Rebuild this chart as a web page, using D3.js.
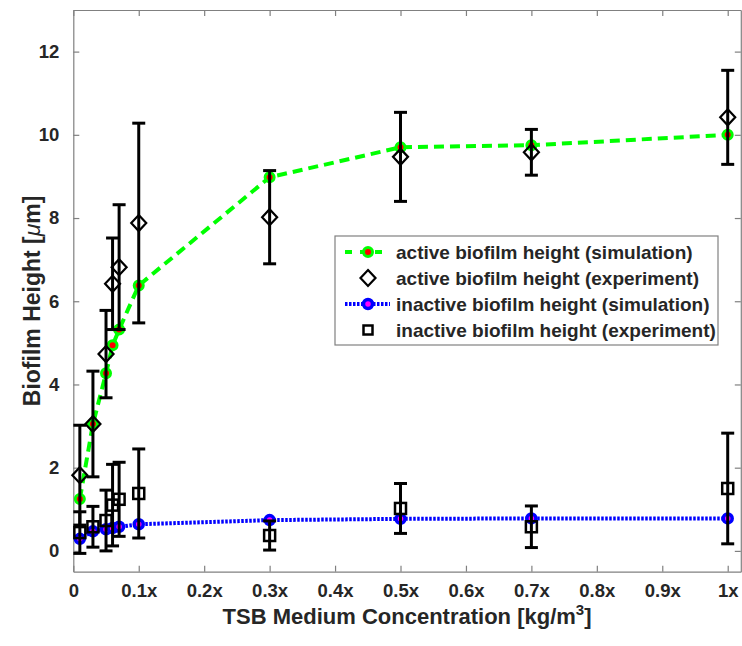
<!DOCTYPE html>
<html>
<head>
<meta charset="utf-8">
<script src="https://cdn.jsdelivr.net/npm/d3@7"></script>
<style>
  body { margin: 0; background: #fff; }
  text { font-family: Arial, "Liberation Sans", sans-serif; font-weight: bold; fill: #262626; }
</style>
</head>
<body>
<div class="chart"></div>
<script>
// data
var concentrations = [0.01, 0.03, 0.05, 0.06, 0.07, 0.1, 0.3, 0.5, 0.7, 1.0];
var activeSim = [1.25, 3.05, 4.27, 4.94, 5.32, 6.38, 8.98, 9.70, 9.75, 10.0];
var activeExp = [1.82, 3.05, 4.73, 6.42, 6.82, 7.88, 8.02, 9.47, 9.58, 10.42];
var activeErr = [1.2, 1.27, 1.05, 1.1, 1.5, 2.4, 1.12, 1.07, 0.55, 1.13];
var inactiveSim = [0.29, 0.47, 0.52, 0.55, 0.58, 0.64, 0.74, 0.77, 0.78, 0.78];
var inactiveExp = [0.44, 0.58, 0.73, 1.1, 1.24, 1.38, 0.37, 1.02, 0.58, 1.5];
var inactiveErr = [0.5, 0.49, 0.73, 0.98, 0.89, 1.07, 0.35, 0.6, 0.5, 1.33];

var xTicks = [0, 0.1, 0.2, 0.3, 0.4, 0.5, 0.6, 0.7, 0.8, 0.9, 1.0];
var xTickLabels = ["0", "0.1x", "0.2x", "0.3x", "0.4x", "0.5x", "0.6x", "0.7x", "0.8x", "0.9x", "1x"];
var yTicks = [0, 2, 4, 6, 8, 10, 12];

var legendLabels = [
  "active biofilm height (simulation)",
  "active biofilm height (experiment)",
  "inactive biofilm height (simulation)",
  "inactive biofilm height (experiment)"
];

var svgWidth = 742, svgHeight = 646;
var margin = {top: 10, right: 1.2, bottom: 74.3, left: 73.3};
var chartWidth = svgWidth - margin.left - margin.right;
var chartHeight = svgHeight - margin.top - margin.bottom;

var svg = d3.select(".chart").append("svg")
  .attr("width", svgWidth)
  .attr("height", svgHeight);

var chart = svg.append("g")
  .attr("transform", "translate(" + margin.left + "," + margin.top + ")");

var x = d3.scaleLinear().domain([0, 1.02]).range([0, chartWidth]);
var y = d3.scaleLinear().domain([-0.5, 13]).range([chartHeight, 0]);

var axisColor = "#808080";

// axes (ticks inward, mirrored on top/right)
function styleAxis(g) {
  g.select(".domain").attr("stroke", axisColor).attr("stroke-width", 1.2);
  g.selectAll(".tick line").attr("stroke", axisColor).attr("stroke-width", 1.2);
  g.selectAll(".tick text").style("font-size", "18.5px").attr("fill", "#262626");
}

chart.append("g")
  .attr("transform", "translate(0," + chartHeight + ")")
  .call(d3.axisBottom(x).tickValues(xTicks).tickSizeInner(-6).tickSizeOuter(0).tickPadding(12)
    .tickFormat(function(d, i) { return xTickLabels[i]; }))
  .call(styleAxis);

chart.append("g")
  .call(d3.axisTop(x).tickValues(xTicks).tickSizeInner(-6).tickSizeOuter(0).tickFormat(""))
  .call(styleAxis);

chart.append("g")
  .call(d3.axisLeft(y).tickValues(yTicks).tickSizeInner(-6).tickSizeOuter(0).tickPadding(14))
  .call(styleAxis);

chart.append("g")
  .attr("transform", "translate(" + chartWidth + ",0)")
  .call(d3.axisRight(y).tickValues(yTicks).tickSizeInner(-6).tickSizeOuter(0).tickFormat(""))
  .call(styleAxis);

var rows = concentrations.map(function(c, i) {
  return {c: c, as: activeSim[i], ae: activeExp[i], aerr: activeErr[i],
          is: inactiveSim[i], ie: inactiveExp[i], ierr: inactiveErr[i]};
});

var plot = chart.append("g");

// active simulation
plot.append("path")
  .datum(rows)
  .attr("fill", "none")
  .attr("stroke", "#00ff00")
  .attr("stroke-width", 4)
  .attr("stroke-dasharray", "10,6")
  .attr("d", d3.line().x(function(d) { return x(d.c); }).y(function(d) { return y(d.as); }));

plot.selectAll(".simA").data(rows).enter().append("circle")
  .attr("cx", function(d) { return x(d.c); })
  .attr("cy", function(d) { return y(d.as); })
  .attr("r", 4.5)
  .attr("fill", "#ff0000")
  .attr("stroke", "#00ff00")
  .attr("stroke-width", 3);

// error bars helper
function errorBars(key, errKey, cls) {
  var g = plot.append("g").attr("class", cls);
  var eb = g.selectAll("g").data(rows).enter().append("g");
  eb.append("line")
    .attr("x1", function(d) { return x(d.c); })
    .attr("x2", function(d) { return x(d.c); })
    .attr("y1", function(d) { return y(d[key] - d[errKey]); })
    .attr("y2", function(d) { return y(d[key] + d[errKey]); });
  eb.append("line")
    .attr("x1", function(d) { return x(d.c) - 6.5; })
    .attr("x2", function(d) { return x(d.c) + 6.5; })
    .attr("y1", function(d) { return y(d[key] + d[errKey]); })
    .attr("y2", function(d) { return y(d[key] + d[errKey]); });
  eb.append("line")
    .attr("x1", function(d) { return x(d.c) - 6.5; })
    .attr("x2", function(d) { return x(d.c) + 6.5; })
    .attr("y1", function(d) { return y(d[key] - d[errKey]); })
    .attr("y2", function(d) { return y(d[key] - d[errKey]); });
  g.selectAll("line").attr("stroke", "#000").attr("stroke-width", 3);
}

// active experiment
errorBars("ae", "aerr", "errA");
var diamond = "M0,-8L7.5,0L0,8L-7.5,0Z";
plot.selectAll(".expA").data(rows).enter().append("path")
  .attr("transform", function(d) { return "translate(" + x(d.c) + "," + y(d.ae) + ")"; })
  .attr("d", diamond)
  .attr("fill", "none")
  .attr("stroke", "#000")
  .attr("stroke-width", 2.2);

// inactive simulation
plot.append("path")
  .datum(rows)
  .attr("fill", "none")
  .attr("stroke", "#0000ff")
  .attr("stroke-width", 4)
  .attr("stroke-dasharray", "2.5,1.5")
  .attr("d", d3.line().x(function(d) { return x(d.c); }).y(function(d) { return y(d.is); }));

plot.selectAll(".simI").data(rows).enter().append("circle")
  .attr("cx", function(d) { return x(d.c); })
  .attr("cy", function(d) { return y(d.is); })
  .attr("r", 4.5)
  .attr("fill", "#ff00ff")
  .attr("stroke", "#0000ff")
  .attr("stroke-width", 3.5);

// inactive experiment
errorBars("ie", "ierr", "errI");
plot.selectAll(".expI").data(rows).enter().append("rect")
  .attr("x", function(d) { return x(d.c) - 5.5; })
  .attr("y", function(d) { return y(d.ie) - 5.5; })
  .attr("width", 11)
  .attr("height", 11)
  .attr("fill", "none")
  .attr("stroke", "#000")
  .attr("stroke-width", 2.5);

// axis titles
svg.append("text")
  .attr("x", margin.left + chartWidth / 2)
  .attr("y", 624)
  .attr("text-anchor", "middle")
  .style("font-size", "22px")
  .html('TSB Medium Concentration [kg/m<tspan dy="-9" style="font-size:15px">3</tspan><tspan dy="9">]</tspan>');

svg.append("text")
  .attr("transform", "translate(40," + (margin.top + chartHeight / 2 + 10) + ") rotate(-90)")
  .attr("text-anchor", "middle")
  .style("font-size", "23px")
  .html('Biofilm Height [<tspan style="font-style:italic;font-weight:normal">μ</tspan>m]');

// legend
var legend = svg.append("g").attr("transform", "translate(335,236)");
legend.append("rect")
  .attr("width", 383).attr("height", 109)
  .attr("fill", "#fff").attr("stroke", "#808080").attr("stroke-width", 1.2);

var legendY = d3.scalePoint().domain(legendLabels).range([16, 94]);

legend.selectAll(".ltext").data(legendLabels).enter().append("text")
  .attr("x", 61)
  .attr("y", function(d) { return legendY(d); })
  .attr("dy", "0.35em")
  .style("font-size", "19px")
  .text(function(d) { return d; });

var l0 = legendY(legendLabels[0]), l1 = legendY(legendLabels[1]),
    l2 = legendY(legendLabels[2]), l3 = legendY(legendLabels[3]);

legend.append("line").attr("x1", 10).attr("x2", 55).attr("y1", l0).attr("y2", l0)
  .attr("stroke", "#00ff00").attr("stroke-width", 4).attr("stroke-dasharray", "7,8");
legend.append("circle").attr("cx", 33).attr("cy", l0).attr("r", 4.5)
  .attr("fill", "#ff0000").attr("stroke", "#00ff00").attr("stroke-width", 3);
legend.append("path").attr("transform", "translate(33," + l1 + ")").attr("d", diamond)
  .attr("fill", "none").attr("stroke", "#000").attr("stroke-width", 2.2);
legend.append("line").attr("x1", 10).attr("x2", 55).attr("y1", l2).attr("y2", l2)
  .attr("stroke", "#0000ff").attr("stroke-width", 4).attr("stroke-dasharray", "2.5,1.5");
legend.append("circle").attr("cx", 33).attr("cy", l2).attr("r", 4.5)
  .attr("fill", "#ff00ff").attr("stroke", "#0000ff").attr("stroke-width", 3.5);
legend.append("rect").attr("x", 28.5).attr("y", l3 - 4.5).attr("width", 9).attr("height", 9)
  .attr("fill", "none").attr("stroke", "#000").attr("stroke-width", 2.5);
</script>
</body>
</html>
